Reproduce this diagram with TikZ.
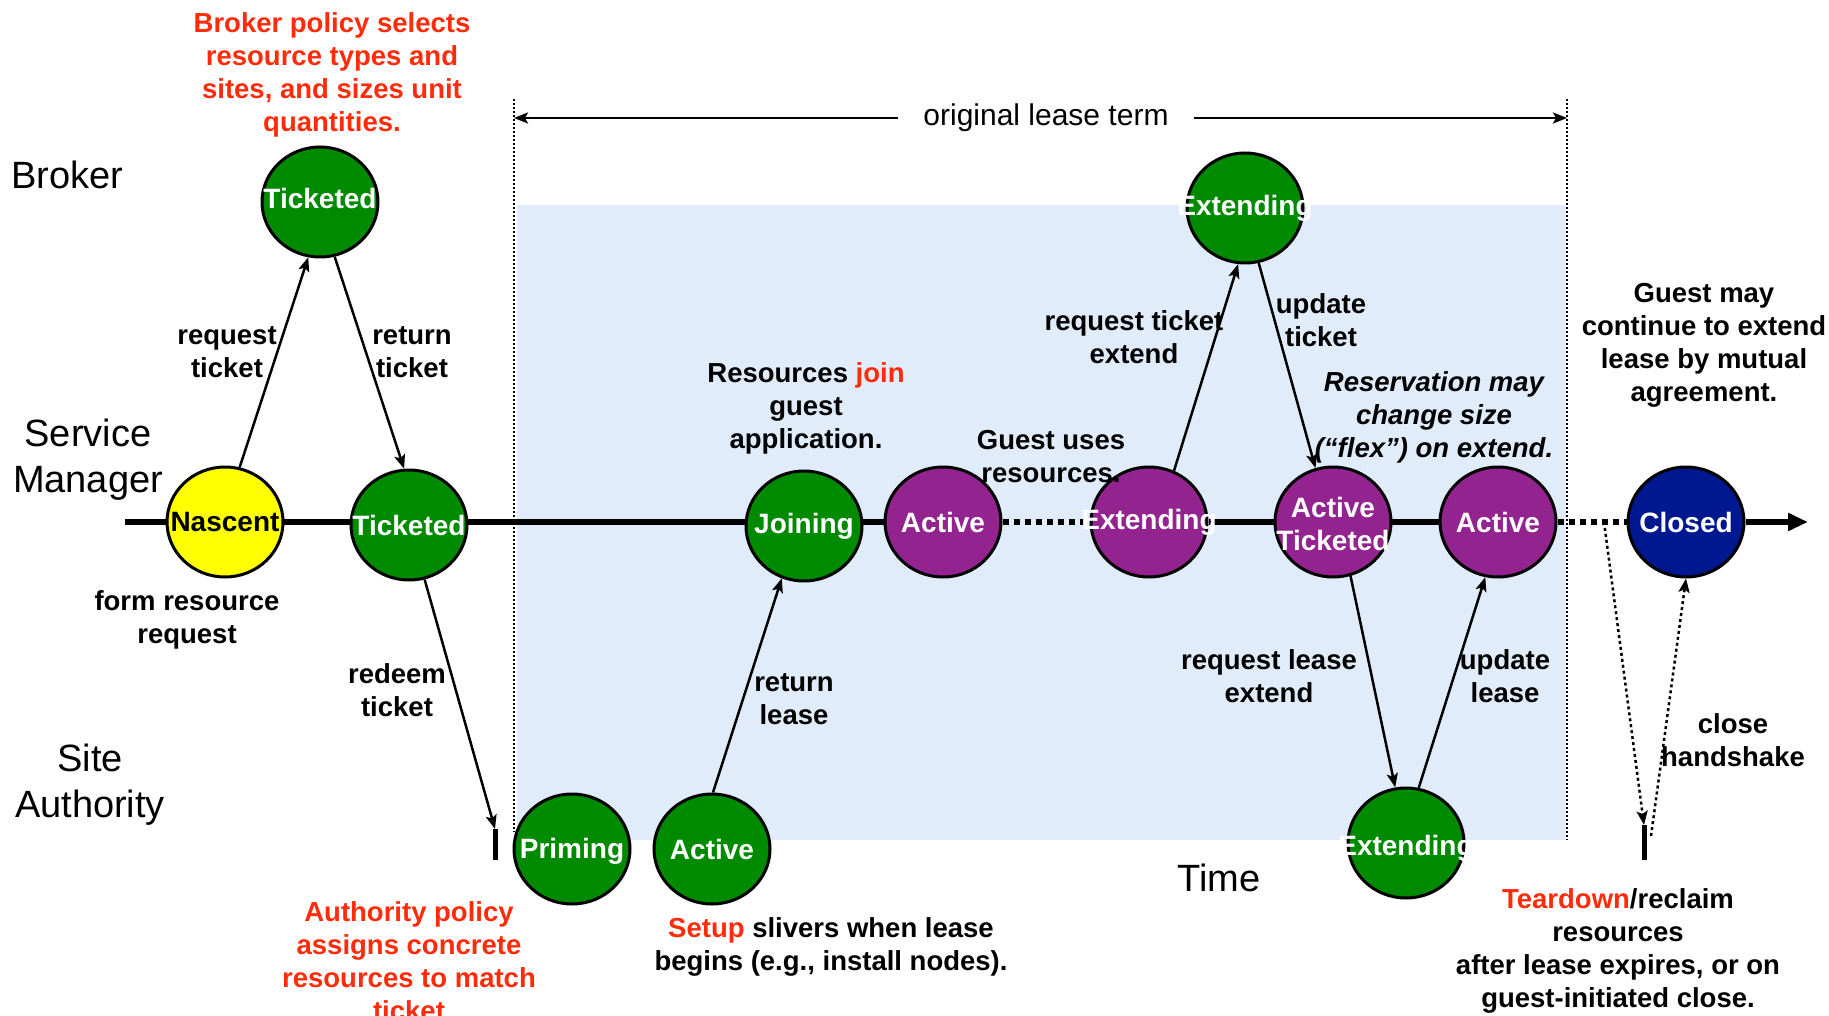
\documentclass[tikz,border=0pt]{standalone}
\usepackage{fontspec}
\setmainfont{Liberation Sans}
\usetikzlibrary{shapes.geometric,arrows.meta}

\definecolor{stgreen}{RGB}{0,138,0}
\definecolor{stpurple}{RGB}{146,35,143}
\definecolor{stblue}{RGB}{0,24,143}
\definecolor{styellow}{RGB}{255,255,0}
\definecolor{leasebg}{RGB}{225,236,251}
\definecolor{policyred}{RGB}{255,43,10}

\pgfdeclarelayer{bg}
\pgfdeclarelayer{lines}
\pgfsetlayers{bg,lines,main}

\begin{document}
\begin{tikzpicture}[x=1pt,y=-1pt,
  state/.style={ellipse, draw=black, line width=3pt, minimum width=116pt,
    minimum height=110pt, inner sep=0pt},
  stlabel/.style={font=\fontsize{28}{33}\selectfont\bfseries, text=white,
    align=center, inner sep=0pt},
  lbl/.style={font=\fontsize{27.5}{33}\selectfont\bfseries, align=center, inner sep=0pt},
  role/.style={font=\fontsize{38}{46}\selectfont, align=center, inner sep=0pt},
  tline/.style={line width=6pt, line cap=butt},
  tdots/.style={tline, dash pattern=on 6pt off 5pt},
  conn/.style={line width=2.5pt, -{Stealth[length=14pt,width=11pt,inset=3pt]}},
  hand/.style={conn, dash pattern=on 3pt off 3pt},
  bar/.style={line width=5pt},
  termline/.style={line width=2pt, dash pattern=on 2pt off 2pt}]

\useasboundingbox (0,0) rectangle (1829,1016);

% lease period shading and its boundaries
\begin{pgfonlayer}{bg}
  \fill[leasebg] (517,205) rectangle (1566,840);
\end{pgfonlayer}
\draw[termline] (514,99) -- (514,832);
\draw[termline] (1567,99) -- (1567,840);

% original lease term span
\node[font=\fontsize{30}{36}\selectfont, inner xsep=25pt, inner ysep=0pt] (lt) at (1046,118) {original lease term};
\coordinate (ltl) at (514,118);
\coordinate (ltr) at (1567,118);
\draw[conn] (lt.west) -- (ltl);
\draw[conn] (lt.east) -- (ltr);

% role labels
\node[role] (rbroker) at (67,175) {Broker};
\node[role] (rsm) at (88,460) {Service\\Manager};
\node[role] (rsa) at (90,785) {Site\\Authority};
\node[role] (rtime) at (1219,878) {Time};

% states
\node[state, fill=stgreen, label={[stlabel, yshift=4pt]center:Ticketed}] (bt) at (320,202) {};
\node[state, fill=stgreen, label={[stlabel]center:Extending}] (bext) at (1245,208) {};

\node[state, fill=styellow, label={[stlabel, text=black]center:Nascent}] (nas) at (225,522) {};
\node[state, fill=stgreen, label={[stlabel]center:Ticketed}] (smtk) at (409,525) {};
\node[state, fill=stgreen, label={[stlabel]center:Joining}] (join) at (804,526) {};
\node[state, fill=stpurple, label={[stlabel]center:Active}] (act1) at (943,522) {};
\node[state, fill=stpurple, label={[stlabel]center:Extending}] (ext1) at (1149,522) {};
\node[state, fill=stpurple, label={[stlabel, yshift=-2pt]center:Active\\Ticketed}] (actk) at (1333,522) {};
\node[state, fill=stpurple, label={[stlabel]center:Active}] (act2) at (1498,522) {};
\node[state, fill=stblue, label={[stlabel]center:Closed}] (closed) at (1686,522) {};

\node[state, fill=stgreen, label={[stlabel, yshift=-2pt]center:Priming}] (prim) at (572,849) {};
\node[state, fill=stgreen, label={[stlabel]center:Active}] (act0) at (712,849) {};
\node[state, fill=stgreen, label={[stlabel, yshift=-5pt]center:Extending}] (sext) at (1406,843) {};

% service manager timeline, running straight behind the states
\coordinate (tl0) at (125,522);
\coordinate (tl1) at (1808,522);
\begin{pgfonlayer}{lines}
  \draw[tline] (tl0) -- (act1);
  \draw[tdots] (act1) -- (ext1);
  \draw[tline] (ext1) -- (act2);
  \draw[tdots] (act2) -- (closed);
  \draw[tline, -{Triangle[length=20pt,width=17pt]}] (closed) -- (tl1);
\end{pgfonlayer}

% message exchanges
\coordinate (rdm) at (495,829);
\coordinate (rdmb) at (495,860);
\coordinate (tdot) at (1604,522);
\coordinate (tdn) at (1644,825);
\coordinate (tdnb) at (1644,860);
\coordinate (hsup) at (1651,836);

\draw[conn] (nas.75) -- (bt.258);
\draw[conn] (bt.285) -- (smtk.95);
\draw[conn] (smtk.286) -- (rdm);
\draw[bar] (rdm) -- (rdmb);
\draw[conn] (act0.89) -- (join.247);
\draw[conn] (ext1.64) -- (bext.263);
\draw[conn] (bext.284) -- (actk.108);
\draw[conn] (actk.288) -- (sext.101);
\draw[conn] (sext.77) -- (act2.257);
\draw[hand] (tdot) -- (tdn);
\draw[bar] (tdn) -- (tdnb);
\draw[hand] (hsup) -- (closed.270);

% annotations
\node[lbl, text=policyred] (bpol) at (332,75) {Broker policy selects\\resource types and\\sites, and sizes unit\\quantities.};
\node[lbl] (lreq) at (227,352) {request\\ticket};
\node[lbl] (lret) at (412,352) {return\\ticket};
\node[lbl] (lform) at (187,620) {form resource\\request};
\node[lbl] (lredeem) at (397,690) {redeem\\ticket};
\node[lbl, text=policyred, anchor=north] (apol) at (409,901) {Authority policy\\assigns concrete\\resources to match\\ticket};
\node[lbl] (ljoin) at (806,408) {Resources \textcolor{policyred}{join}\\guest\\application.};
\node[lbl] (luse) at (1051,457) {Guest uses\\resources.};
\node[lbl] (lreqx) at (1134,337) {request ticket\\extend};
\node[lbl] (lupdt) at (1321,320) {update\\ticket};
\node[lbl, font=\fontsize{27.5}{33}\selectfont\bfseries\itshape] (lflex) at (1434,417) {Reservation may\\change size\\(“flex”) on extend.};
\node[lbl] (lcont) at (1704,345) {Guest may\\continue to extend\\lease by mutual\\agreement.};
\node[lbl] (lretl) at (794,699) {return\\lease};
\node[lbl] (lsetup) at (831,947) {\textcolor{policyred}{Setup} slivers when lease\\begins (e.g., install nodes).};
\node[lbl] (lreql) at (1269,676) {request lease\\extend};
\node[lbl] (lupdl) at (1505,676) {update\\lease};
\node[lbl] (lclose) at (1733,740) {close\\handshake};
\node[lbl] (ltear) at (1618,951) {\textcolor{policyred}{Teardown}/reclaim\\resources\\after lease expires, or on\\guest-initiated close.};

\end{tikzpicture}
\end{document}
